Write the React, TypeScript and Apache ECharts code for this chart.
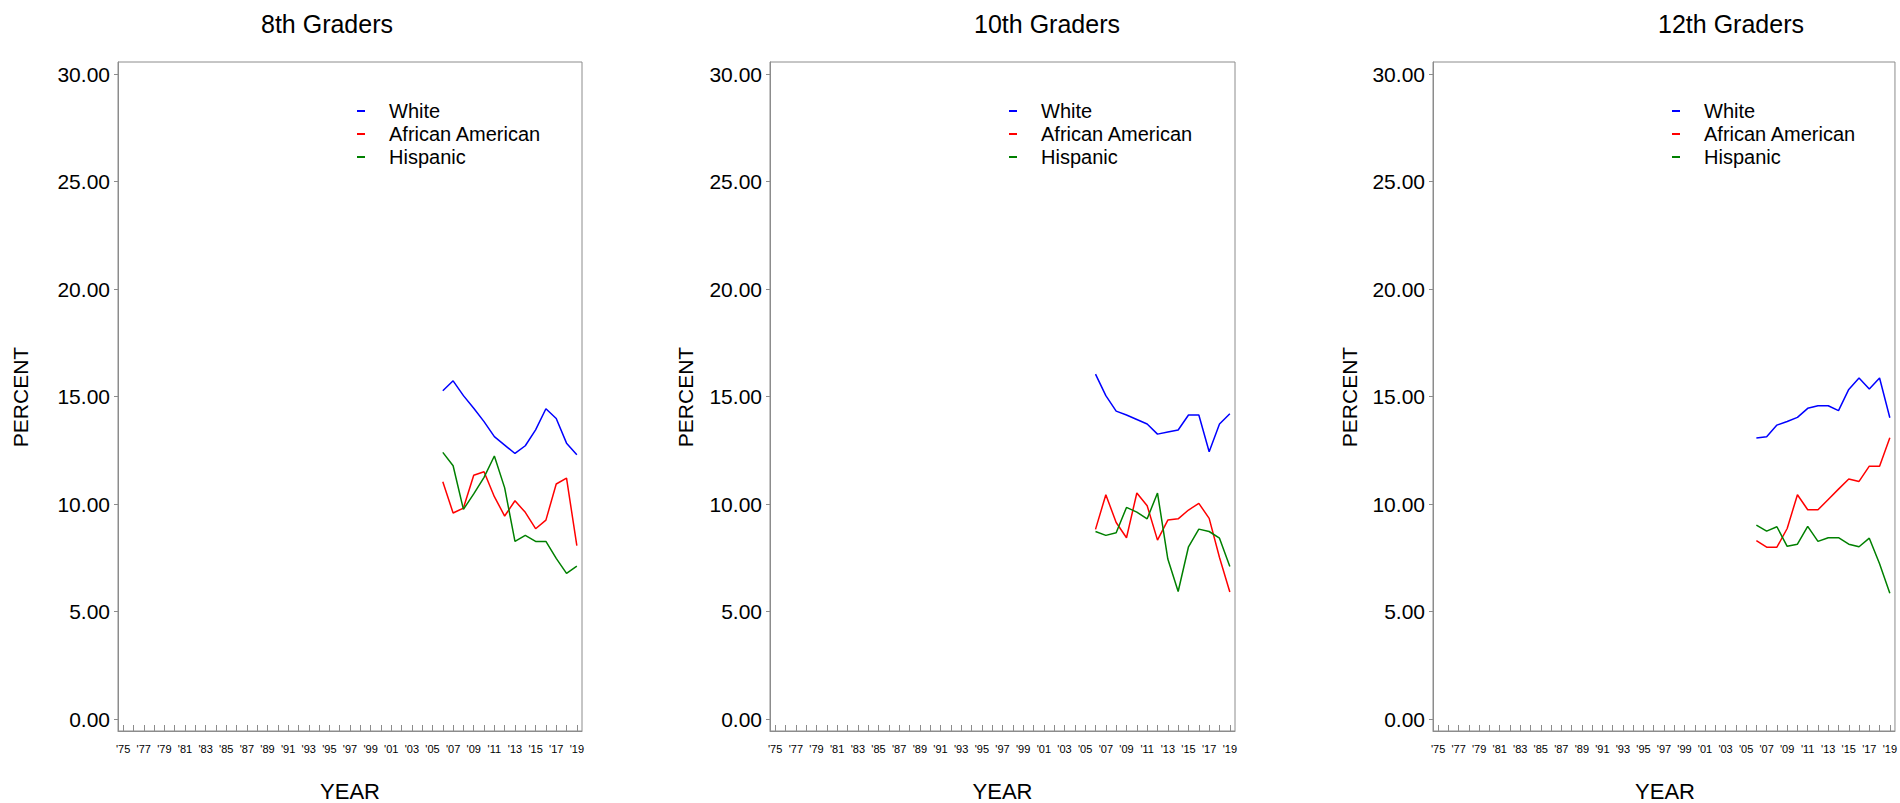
import React, { useEffect, useRef } from "react";
import * as echarts from "echarts";

const years = [2006, 2007, 2008, 2009, 2010, 2011, 2012, 2013, 2014, 2015, 2016, 2017, 2018, 2019];

const g8White = [15.28, 15.74, 15.05, 14.46, 13.84, 13.14, 12.75, 12.36, 12.72, 13.46, 14.44, 13.99, 12.84, 12.3];
const g8African = [11.04, 9.59, 9.82, 11.35, 11.51, 10.35, 9.45, 10.16, 9.62, 8.86, 9.26, 10.94, 11.21, 8.07];
const g8Hispanic = [12.41, 11.79, 9.76, 10.48, 11.25, 12.24, 10.76, 8.27, 8.55, 8.27, 8.27, 7.48, 6.78, 7.12];

const g10White = [16.05, 15.05, 14.33, 14.15, 13.94, 13.73, 13.26, 13.36, 13.45, 14.15, 14.15, 12.44, 13.73, 14.21];
const g10African = [8.83, 10.44, 9.15, 8.44, 10.52, 9.93, 8.33, 9.26, 9.32, 9.73, 10.04, 9.34, 7.52, 5.92];
const g10Hispanic = [8.73, 8.55, 8.67, 9.85, 9.63, 9.32, 10.52, 7.45, 5.94, 8.02, 8.84, 8.73, 8.42, 7.1];

const g12White = [13.08, 13.14, 13.68, 13.85, 14.04, 14.46, 14.58, 14.58, 14.35, 15.34, 15.87, 15.36, 15.87, 14.02];
const g12African = [8.31, 8.0, 8.0, 8.87, 10.44, 9.74, 9.74, 10.22, 10.7, 11.17, 11.06, 11.77, 11.77, 13.09];
const g12Hispanic = [9.03, 8.75, 8.95, 8.04, 8.14, 8.97, 8.27, 8.44, 8.44, 8.14, 8.02, 8.42, 7.23, 5.86];

const panelTitles = ["8th Graders", "10th Graders", "12th Graders"];
const seriesNames = ["White", "African American", "Hispanic"];
const seriesColors = ["#0000ff", "#ff0000", "#008000"];

const yTickValues = [0, 5, 10, 15, 20, 25, 30];
const xTickYears = [
  1975, 1976, 1977, 1978, 1979, 1980, 1981, 1982, 1983, 1984, 1985, 1986, 1987, 1988, 1989,
  1990, 1991, 1992, 1993, 1994, 1995, 1996, 1997, 1998, 1999, 2000, 2001, 2002, 2003, 2004,
  2005, 2006, 2007, 2008, 2009, 2010, 2011, 2012, 2013, 2014, 2015, 2016, 2017, 2018, 2019,
];
const xLabelYears = [
  1975, 1977, 1979, 1981, 1983, 1985, 1987, 1989, 1991, 1993, 1995, 1997, 1999, 2001, 2003,
  2005, 2007, 2009, 2011, 2013, 2015, 2017, 2019,
];

const panelData = [
  [g8White, g8African, g8Hispanic],
  [g10White, g10African, g10Hispanic],
  [g12White, g12African, g12Hispanic],
];

const FONT = "'Liberation Sans', Arial, sans-serif";
const GRAY = "#8c8c8c";

// layout
const gridLefts = [118, 770, 1433];
const gridWidths = [464, 465, 464];
const gridTop = 62;
const gridHeight = 669;
const titleCenters = [327, 1047, 1731];
const percentX = [20, 685, 1349];
const legendLefts = [352, 1004, 1667];

export default function App() {
  const ref = useRef<HTMLDivElement>(null);

  useEffect(() => {
    if (!ref.current) return;
    const chart = echarts.init(ref.current, null, { renderer: "svg" });

    const grids = gridLefts.map((l, i) => ({
      left: l,
      top: gridTop,
      width: gridWidths[i],
      height: gridHeight,
      show: true,
      borderColor: GRAY,
      borderWidth: 1,
      backgroundColor: "transparent",
    }));

    const xAxes = gridLefts.map((_, i) => ({
      type: "value",
      gridIndex: i,
      min: 1974.5,
      max: 2019.5,
      axisLine: { show: true, onZero: false, lineStyle: { color: GRAY, width: 1 } },
      axisTick: {
        show: true,
        inside: true,
        length: 6,
        lineStyle: { color: GRAY },
        customValues: xTickYears,
      },
      axisLabel: {
        show: true,
        customValues: xLabelYears,
        formatter: (v: number) => "'" + String(Math.round(v)).slice(2),
        fontSize: 11,
        color: "#000",
        fontFamily: FONT,
        margin: 12,
      },
      splitLine: { show: false },
    }));

    const yAxes = gridLefts.map((_, i) => ({
      type: "value",
      gridIndex: i,
      min: -0.55,
      max: 30.57,
      axisLine: { show: true, onZero: false, lineStyle: { color: GRAY, width: 1 } },
      axisTick: {
        show: true,
        inside: false,
        length: 4,
        lineStyle: { color: GRAY },
        customValues: yTickValues,
      },
      axisLabel: {
        show: true,
        customValues: yTickValues,
        formatter: (v: number) => v.toFixed(2),
        fontSize: 21,
        color: "#000",
        fontFamily: FONT,
        margin: 8,
      },
      splitLine: { show: false },
    }));

    const series: any[] = [];
    panelData.forEach((sets, p) => {
      sets.forEach((vals, s) => {
        series.push({
          type: "line",
          name: seriesNames[s],
          xAxisIndex: p,
          yAxisIndex: p,
          data: years.map((y, k) => [y, vals[k]]),
          showSymbol: false,
          symbol: "none",
          lineStyle: { color: seriesColors[s], width: 1.5 },
          itemStyle: { color: seriesColors[s] },
          emphasis: { disabled: true },
        });
      });
    });

    const legends = legendLefts.map((l) => ({
      show: true,
      orient: "vertical",
      left: l,
      top: 95,
      icon: "rect",
      itemWidth: 8,
      itemHeight: 2,
      itemGap: 1,
      selectedMode: false,
      data: seriesNames,
      textStyle: {
        fontSize: 20,
        color: "#000",
        fontFamily: FONT,
        padding: [0, 0, 0, 19],
        lineHeight: 22,
      },
    }));

    const graphics: any[] = [];
    panelTitles.forEach((t, i) => {
      graphics.push({
        type: "text",
        x: titleCenters[i],
        y: 24,
        style: {
          text: t,
          fontSize: 25,
          fontFamily: FONT,
          fill: "#000",
          textAlign: "center",
          textVerticalAlign: "middle",
        },
      });
      graphics.push({
        type: "text",
        x: gridLefts[i] + gridWidths[i] / 2,
        y: 791,
        style: {
          text: "YEAR",
          fontSize: 22,
          fontFamily: FONT,
          fill: "#000",
          textAlign: "center",
          textVerticalAlign: "middle",
        },
      });
      graphics.push({
        type: "text",
        x: percentX[i],
        y: 397,
        rotation: Math.PI / 2,
        style: {
          text: "PERCENT",
          fontSize: 21,
          fontFamily: FONT,
          fill: "#000",
          textAlign: "center",
          textVerticalAlign: "middle",
        },
      });
    });

    chart.setOption({
      animation: false,
      backgroundColor: "#ffffff",
      grid: grids,
      xAxis: xAxes,
      yAxis: yAxes,
      legend: legends,
      series,
      graphic: graphics,
    });

    return () => chart.dispose();
  }, []);

  return (
    <div
      ref={ref}
      style={{ position: "absolute", left: 0, top: 0, width: 1900, height: 803 }}
    />
  );
}
